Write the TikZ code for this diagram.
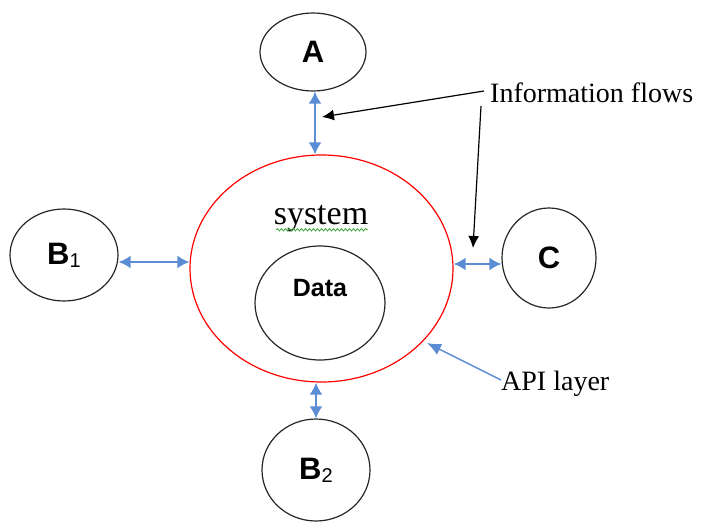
\documentclass[tikz,border=0pt]{standalone}
\usepackage{fontspec}
\setmainfont{Liberation Serif}
\newfontfamily\lsans{Liberation Sans}
\usetikzlibrary{shapes.geometric,arrows.meta,decorations.pathmorphing,calc}
\definecolor{flowblue}{RGB}{91,141,212}
\definecolor{squig}{RGB}{60,170,60}
\begin{document}
\begin{tikzpicture}[x=1pt,y=-1pt,
  bubble/.style={draw=black!85,line width=1.2pt,ellipse,inner sep=0pt},
  syst/.style={draw=red,line width=1.2pt,ellipse,inner sep=0pt},
  lbl/.style={font=\lsans\bfseries\fontsize{31}{33}\selectfont},
  datalbl/.style={font=\lsans\bfseries\fontsize{25}{27}\selectfont},
  serif/.style={font=\fontsize{28}{30}\selectfont},
  flow/.style={draw=flowblue,line width=2pt,{Latex[length=12pt,width=13pt]}-{Latex[length=12pt,width=13pt]}},
  pointer/.style={draw=black,line width=1.2pt,-{Latex[length=12pt,width=11pt]}},
  apipointer/.style={draw=flowblue,line width=1.5pt,-{Latex[length=14pt,width=12pt]}}
]
\useasboundingbox (0,0) rectangle (701,522);
\newcommand{\subdigit}[1]{\raisebox{-3pt}{\mdseries\fontsize{20}{20}\selectfont #1}}
% nodes
\node[syst,minimum width=263pt,minimum height=227pt] (sys) at (321.5,268.5) {};
\node[font=\fontsize{34}{36}\selectfont] (syslab) at (321,219) {system};
\node[bubble,minimum width=130pt,minimum height=114pt] (data) at (320,303) {};
\node[datalbl] (datalab) at ($(data.center)+(0,-15)$) {Data};
\node[bubble,lbl,minimum width=106pt,minimum height=78pt] (A) at (313,52) {A};
\node[bubble,lbl,minimum width=108pt,minimum height=92pt] (B1) at (64,255) {B\subdigit{1}};
\node[bubble,lbl,minimum width=94pt,minimum height=100pt] (C) at (549,258) {C};
\node[bubble,lbl,minimum width=108pt,minimum height=102pt] (B2) at (316,470) {B\subdigit{2}};
\node[serif,anchor=west,inner sep=0pt] (info) at (490,93) {Information flows};
\node[serif,anchor=west,inner sep=0pt] (api) at (501,384) {API layer};
% spell-check squiggle
\draw[squig,line width=0.8pt,decorate,decoration={snake,amplitude=1.2pt,segment length=4pt}]
  ($(syslab.south west)+(6,-6)$) -- ($(syslab.south east)+(-4,-6)$);
% flows
\path (A.south) ++(2,0) coordinate (as);
\draw[flow] (as) -- (as |- sys.north);
\path (B1.east) ++(0,7) coordinate (b1e);
\draw[flow] (b1e) -- (b1e -| sys.west);
\path (C.west) ++(0,6) coordinate (ce);
\draw[flow] (ce) -- (ce -| sys.east);
\draw[flow] (B2.north) -- (B2.north |- sys.south);
% information flow pointers
\coordinate (p1) at (322,117);
\coordinate (q0) at (481,106);
\coordinate (q1) at (473,248);
\draw[pointer] ($(info.west)+(-6,-2)$) -- (p1);
\draw[pointer] (q0) -- (q1);
% API pointer
\coordinate (p3) at (427,343);
\draw[apipointer] ($(api.west)+(0,-4)$) -- (p3);
\end{tikzpicture}
\end{document}
